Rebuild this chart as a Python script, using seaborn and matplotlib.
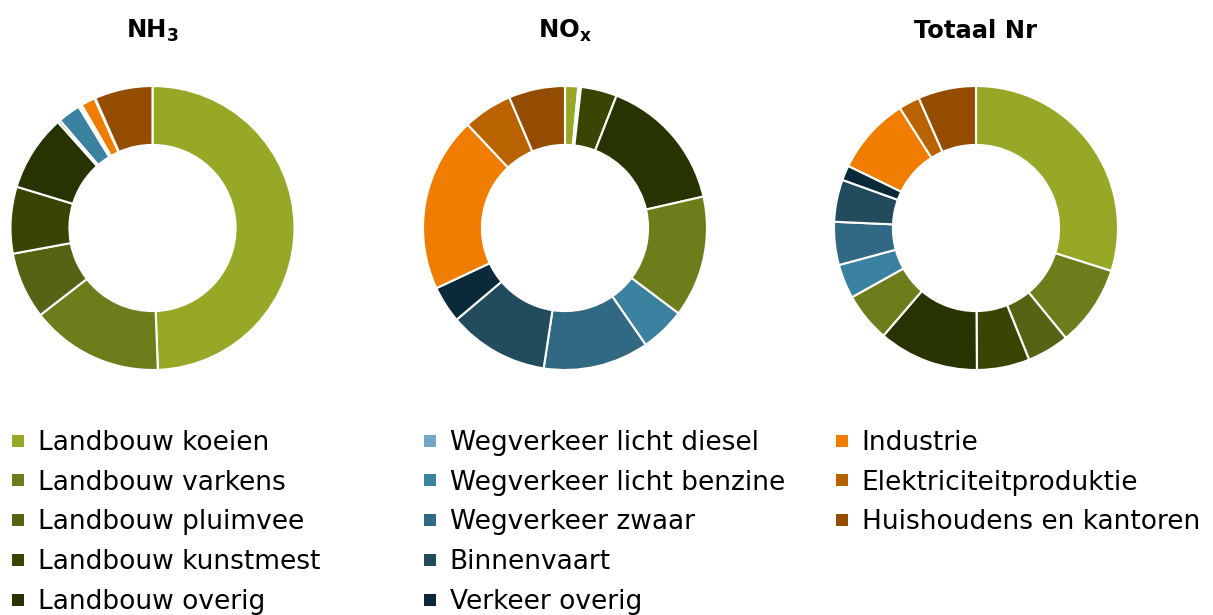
import matplotlib.pyplot as plt
import seaborn as sns
from matplotlib.lines import Line2D

# bronnen (volgorde legenda en taartpunten, met de klok mee vanaf 12 uur)
bronnen = [
    "Landbouw koeien", "Landbouw varkens", "Landbouw pluimvee",
    "Landbouw kunstmest", "Landbouw overig",
    "Wegverkeer licht diesel", "Wegverkeer licht benzine", "Wegverkeer zwaar",
    "Binnenvaart", "Verkeer overig",
    "Industrie", "Elektriciteitproduktie", "Huishoudens en kantoren",
]

nh3 = [49.4, 15.1, 7.6, 7.6, 8.7, 0.3, 2.6, 0.2, 0.1, 0.1, 1.6, 0.1, 6.6]
nox = [1.5, 0.15, 0.15, 4.1, 15.5, 13.8, 5.1, 12.0, 11.4, 4.2, 19.9, 5.6, 6.4]
totaal_nr = [29.9, 9.2, 4.8, 6.0, 11.4, 5.6, 3.9, 4.9, 4.8, 1.7, 8.8, 2.4, 6.6]

titels = ["NH$_\\mathbf{3}$", "NO$_\\mathbf{x}$", "Totaal Nr"]

legenda_kleuren = [
    "#97a827", "#6e7d1b", "#556314", "#3a4503", "#283302",
    "#75a6c8", "#3b81a0", "#316883", "#234b5e", "#0a2a3a",
    "#f07d00", "#b86200", "#944d00",
]
# in de taarten is "licht diesel" olijfgroen getekend
taart_kleuren = list(legenda_kleuren)
taart_kleuren[5] = "#6e7d1b"

sns.set_theme(style="white")
plt.rcParams["font.family"] = ["DejaVu Sans"]
plt.rcParams["mathtext.fontset"] = "dejavusans"
plt.rcParams["text.color"] = "black"

W, H = 1213, 615
fig = plt.figure(figsize=(W / 100, H / 100), dpi=100)

centra_x = [152.5, 565, 976]
cy = 228
r = 142

for data, titel, cx in zip([nh3, nox, totaal_nr], titels, centra_x):
    ax = fig.add_axes([(cx - r) / W, (H - cy - r) / H, 2 * r / W, 2 * r / H])
    ax.pie(data, colors=taart_kleuren, startangle=90, counterclock=False,
           wedgeprops=dict(width=0.415, edgecolor="white", linewidth=1.5))
    ax.set_xlim(-1, 1)
    ax.set_ylim(-1, 1)
    ax.set_aspect("equal")
    ax.axis("off")
    fig.text(cx / W, 1 - 31 / H, titel, ha="center", va="center",
             fontsize=17.5, fontweight="bold", color="black")

# legenda in drie kolommen
kolommen = [(0, 5, 7.5), (5, 10, 419.5), (10, 13, 831.5)]
for start, eind, x in kolommen:
    handles = [Line2D([], [], marker="s", linestyle="none", markersize=9,
                      markerfacecolor=legenda_kleuren[i], markeredgewidth=0)
               for i in range(start, eind)]
    fig.legend(handles, bronnen[start:eind], loc="upper left",
               bbox_to_anchor=(x / W, 1 - 430 / H), frameon=False,
               fontsize=19, handlelength=0.8, handletextpad=0.35,
               labelspacing=0.52, borderpad=0, borderaxespad=0,
               labelcolor="black")

fig.savefig("out.png", dpi=100)
